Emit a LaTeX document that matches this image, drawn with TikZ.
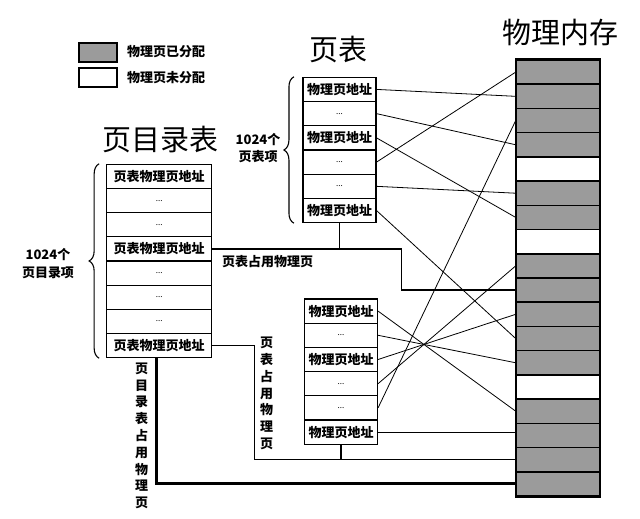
\documentclass[tikz,border=0pt]{standalone}
\usepackage{fontspec}
\setmainfont{Noto Sans CJK SC}
\usetikzlibrary{decorations.pathreplacing}
\definecolor{memgray}{RGB}{155,155,155}
\newcommand{\mydots}{{\mdseries\fontsize{8}{8}\selectfont ...}}
\begin{document}
\begin{tikzpicture}[x=1pt,y=-1pt,
  cell/.style={draw, line width=1.1pt, minimum height=24.2pt, inner sep=0pt, font=\bfseries\fontsize{13}{13}\selectfont},
  pdcell/.style={cell, minimum width=105pt},
  ptcell/.style={cell, minimum width=73pt},
  memcell/.style={draw, line width=1.6pt, minimum width=83pt, minimum height=24.22pt, inner sep=0pt},
  map/.style={line width=0.8pt},
  occ/.style={line width=1.4pt},
  thickocc/.style={line width=3pt},
  title/.style={font=\fontsize{29}{31}\selectfont},
  lbl/.style={inner sep=0pt, font=\bfseries\fontsize{13}{13}\selectfont},
  cnt/.style={inner sep=0pt, align=center},
  vlbl/.style={inner sep=0pt, align=center, font=\bfseries\fontsize{13}{16.8}\selectfont},
  brc/.style={decorate, decoration={brace, amplitude=10pt}, line width=1.1pt},
  legbox/.style={draw, line width=1.1pt, minimum width=38pt, minimum height=19pt, inner sep=0pt}
]
\useasboundingbox (0,0) rectangle (640,519);

% titles
\node[title] (t1) at (160,140) {页目录表};
\node[title] (t2) at (338,50) {页表};
\node[title] (t3) at (560,33) {物理内存};

% legend
\node[legbox, fill=memgray] (lg1) at (98,52.5) {};
\node[legbox, fill=white] (lg2) at (98,77.5) {};
\node[lbl, anchor=west] (lgt1) at (127,52) {物理页已分配};
\node[lbl, anchor=west] (lgt2) at (127,78) {物理页未分配};

% page directory
\foreach \t [count=\i from 0] in {页表物理页地址,\mydots,\mydots,页表物理页地址,\mydots,\mydots,\mydots,页表物理页地址}
  \node[pdcell] (pd\i) at (159.2,{164.3+24.17*(\i+0.5)}) {\t};

% page table 1
\foreach \t [count=\i from 0] in {物理页地址,\mydots,物理页地址,\mydots,\mydots,物理页地址}
  \node[ptcell] (a\i) at (339.5,{77.3+24.23*(\i+0.5)}) {\t};

% page table 2
\foreach \t [count=\i from 0] in {物理页地址,\mydots,物理页地址,\mydots,\mydots,物理页地址}
  \node[ptcell] (b\i) at (341,{299+24.2*(\i+0.5)}) {\t};

% physical memory
\foreach \i in {0,...,17}{
  \ifnum\i=4 \def\f{white}\else\ifnum\i=7 \def\f{white}\else\ifnum\i=13 \def\f{white}\else\def\f{memgray}\fi\fi\fi
  \node[memcell, fill=\f] (m\i) at (558,{60+24.22*(\i+0.5)}) {};
}
\draw[line width=1.6pt] (m0.north west) rectangle (m17.south east);

% braces
\draw[brc] ([xshift=-7pt]pd7.south west) -- ([xshift=-7pt]pd0.north west);
\draw[brc] ([xshift=-8.5pt]a5.south west) -- ([xshift=-8.5pt]a0.north west);
\node[cnt, font=\bfseries\fontsize{13}{18}\selectfont] (pdcnt) at (48,264) {1024个\\页目录项};
\node[cnt, font=\bfseries\fontsize{13}{17}\selectfont] (ptcnt) at (258,148.5) {1024个\\页表项};

% occupancy connectors
\draw[occ] (pd3.east) -- ++(189.3,0) |- (m9.west);
\draw[occ] (a5.south) -- (a5.south |- pd3.east);
\draw[occ] (pd7.east) -- ++(42.3,0) |- (m16.west);
\draw[occ] (b5.south) -- (b5.south |- m16.west);
\draw[thickocc] ([xshift=-2.5pt]pd7.south) |- (m17.west);

\node[lbl] (occ1) at (267.5,262) {页表占用物理页};
\node[vlbl] (occ2) at (266.7,393.5) {页\\表\\占\\用\\物\\理\\页};
\node[vlbl] (occ3) at (141.7,435.8) {页\\目\\录\\表\\占\\用\\物\\理\\页};

% mapping lines, page table 1
\draw[map] (a0.east) -- (m1.west);
\draw[map] (a1.east) -- (m3.west);
\draw[map] (a2.east) -- (m6.west);
\draw[map] (a3.east) -- (m0.west);
\draw[map] (a4.east) -- (m5.west);
\draw[map] (a5.east) -- (m11.west);

% mapping lines, page table 2
\draw[map] (b0.east) -- (m14.west);
\draw[map] (b1.east) -- (m12.west);
\draw[map] (b2.east) -- (m10.west);
\draw[map] (b3.east) -- (m8.west);
\draw[map] (b4.east) -- (m2.west);
\draw[map] (b5.east) -- (b5.east -| m15.west);
\end{tikzpicture}
\end{document}
